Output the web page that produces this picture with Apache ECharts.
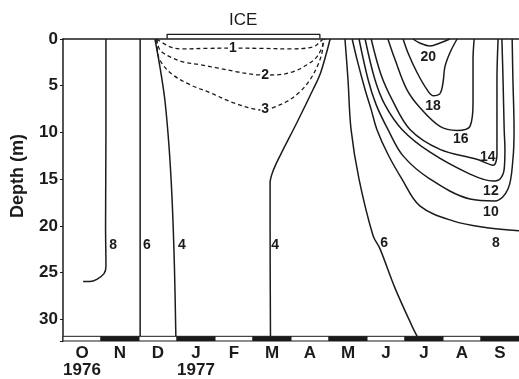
<!DOCTYPE html>
<html><head><meta charset="utf-8">
<script src="https://cdn.jsdelivr.net/npm/echarts@6/dist/echarts.min.js"></script>
<style>html,body{margin:0;padding:0;background:#fff}#c{width:519px;height:379px}</style>
</head><body><div id="c"></div>
<script>
// x = months since 1 Oct 1976, y = depth (m)
const months = ['O','N','D','J','F','M','A','M','J','J','A','S'];
const yearLabels = {0:'1976', 3:'1977'};
const depthTicks = [0,5,10,15,20,25,30];
const depthMax = 32.3;
const stripTop = 31.8;

// solid isotherms (°C)
const iso8Left  = [[1.13,0],[1.13,10],[1.12,20],[1.13,24.3],[1.08,25.1],[0.89,25.7],[0.71,25.93],[0.53,25.93]];
const iso6Left  = [[2.03,0],[2.03,15],[2.03,31.8]];
const iso4Left  = [[2.42,0],[2.56,3.2],[2.68,6.5],[2.79,11.5],[2.87,17.1],[2.93,24],[2.97,31.8]];
const iso4Right = [[7.03,0],[6.78,3.6],[6.58,5.4],[6.16,8.9],[5.71,12.5],[5.52,14.2],[5.45,15.4],[5.45,20],[5.46,31.8]];
const iso6Right = [[7.42,0],[7.50,4.36],[7.58,9.67],[7.79,14.98],[8.16,21.04],[8.34,22.42],[8.74,26.67],[9.21,30.92],[9.32,31.8]];
const iso8Right = [[7.61,0],[7.74,2.23],[7.95,5.42],[8.11,7.55],[8.26,9.67],[8.55,12.33],[8.92,14.98],[9.39,17.85],[10.26,19.45],[11.16,20.19],[12.0,20.51]];
const iso10 = [[7.79,0],[8.03,4.36],[8.24,7.02],[8.55,9.67],[8.95,12.5],[9.66,14.98],[10.71,17.11],[11.37,17.32],[11.71,16.05],[11.84,12.86],[11.87,9.67],[11.84,4.36],[11.82,0]];
const iso12 = [[7.95,0],[8.21,4.36],[8.47,7.02],[8.92,9.67],[9.66,12.11],[10.71,14.45],[11.32,15.2],[11.50,14.98],[11.61,13.92],[11.63,11.8],[11.61,9.67],[11.58,4.36],[11.55,0]];
const iso14 = [[8.11,0],[8.37,3.83],[8.66,6.48],[9.13,9.67],[9.92,11.8],[10.89,12.86],[11.32,13.5],[11.42,12.33],[11.42,9.67],[11.42,4.36],[11.45,0]];
const iso16 = [[8.55,0],[8.74,2.23],[9.05,5.42],[9.39,7.33],[9.92,9.35],[10.37,9.78],[10.71,9.35],[10.79,6.8],[10.79,2.23],[10.82,0]];
const iso18 = [[8.95,0],[9.08,1.49],[9.32,3.61],[9.58,5.42],[9.74,6.06],[9.92,5.84],[10.0,4.68],[10.05,2.98],[10.18,1.49],[10.37,0]];
const iso20 = [[9.21,0],[9.39,0.43],[9.66,0.74],[9.92,0.43],[10.18,0]];

// dashed isotherms under ice
const iso1 = [[2.47,0],[2.82,0.85],[3.16,1.06],[3.8,1.0],[4.47,0.98],[5.2,1.0],[5.97,1.06],[6.58,0.85],[6.76,0.32],[6.84,0]];
const iso2 = [[2.47,0],[2.55,1.17],[2.82,1.91],[3.16,2.44],[3.61,2.76],[4.05,3.08],[4.58,3.51],[5.11,3.83],[5.32,3.85],[5.63,3.83],[6.05,3.51],[6.42,2.76],[6.68,1.91],[6.82,0.85],[6.89,0]];
const iso3 = [[2.47,0.1],[2.50,1.70],[2.63,2.76],[2.89,3.83],[3.34,4.89],[3.87,5.74],[4.47,6.80],[5.11,7.55],[5.32,7.6],[5.53,7.33],[5.89,6.69],[6.24,5.63],[6.50,4.36],[6.71,2.76],[6.82,1.38],[6.84,0.32]];

// isotherm labels: [month, depth, text]
const solidLabels = [
  [1.32,22.1,'8'],[2.21,22.1,'6'],[3.13,22.1,'4'],[5.58,22.1,'4'],
  [8.45,21.8,'6'],[11.39,21.8,'8'],[11.26,18.5,'10'],[11.26,16.26,'12'],
  [11.18,12.65,'14'],[10.47,10.73,'16'],[9.74,7.23,'18'],[9.61,1.91,'20']
];
const dashedLabels = [[4.47,0.96,'1'],[5.32,3.83,'2'],[5.32,7.55,'3']];

const iceStart = 2.74, iceEnd = 6.76;
const iceText = [[4.74,-2.0,'ICE']];

const INK = '#1b1b1b';
const FONT = 'Liberation Sans, Arial, sans-serif';
const lineBase = (data, dashed) => ({
  type:'line', data, smooth:0.35, symbol:'none', xAxisIndex:0, yAxisIndex:0,
  lineStyle:{color:INK, width: dashed ? 1.3 : 1.5, type: dashed ? [4,3] : 'solid'},
  silent:true, animation:false, z:3
});

const series = [];
[iso8Left, iso6Left, iso4Left, iso4Right, iso6Right, iso8Right, iso10, iso12, iso14, iso16, iso18, iso20]
  .forEach(d => series.push(lineBase(d, false)));
[iso1, iso2, iso3].forEach(d => series.push(lineBase(d, true)));

// ICE bracket
series.push({
  type:'line', clip:false, symbol:'none', animation:false, silent:true,
  data:[[iceStart,-0.05],[iceStart,-0.5],[iceEnd,-0.5],[iceEnd,-0.05]],
  lineStyle:{color:INK, width:1.3}
});

// bottom month strip
series.push({
  type:'custom', clip:false, animation:false, silent:true, z:4,
  data: months.map((m,i)=>[i]),
  encode:{x:0},
  renderItem(params, api){
    const i = api.value(0);
    const p0 = api.coord([i, stripTop]);
    const p1 = api.coord([i+1, depthMax]);
    const black = i % 2 === 1;
    return {type:'rect', shape:{x:p0[0], y:p0[1], width:p1[0]-p0[0], height:p1[1]-p0[1]},
      style:{fill: black ? INK : '#fff', stroke: INK, lineWidth:1}};
  }
});

const labelSeries = (arr, extra) => ({
  type:'scatter', symbolSize:0, clip:false, animation:false, silent:true, z:6,
  itemStyle:{color:INK, opacity:1},
  data: arr.map(a => ({value:[a[0],a[1]], name:a[2]})),
  label: Object.assign({show:true, position:'inside', formatter:'{b}', color:INK,
    textBorderWidth:0, textBorderColor:'transparent', opacity:1,
    fontFamily:FONT, fontSize:14, fontWeight:'bold'}, extra || {})
});
series.push(labelSeries(solidLabels));
series.push(labelSeries(dashedLabels, {backgroundColor:'#fff', padding:[0,1]}));
series.push(labelSeries(iceText, {fontSize:17, fontWeight:'normal'}));

const chart = echarts.init(document.getElementById('c'), null, {renderer:'canvas'});
chart.setOption({
  animation:false,
  backgroundColor:'#fff',
  grid:{left:63, right:0, top:39, bottom:36, containLabel:false},
  xAxis:[
    {type:'value', min:0, max:12, position:'top',
     axisLine:{show:true, lineStyle:{color:INK, width:1.5}}, axisTick:{show:false},
     axisLabel:{show:false}, splitLine:{show:false}},
    {type:'category', position:'bottom', boundaryGap:true,
     data: months.map((m,i)=>String(i)),
     axisLine:{show:false}, axisTick:{show:false}, splitLine:{show:false},
     axisLabel:{interval:0, margin:4, color:INK, fontFamily:FONT,
       fontSize:17, fontWeight:'bold', lineHeight:17,
       formatter:(v,i)=> months[i] + (yearLabels[i] ? '\n' + yearLabels[i] : '')}}
  ],
  yAxis:{type:'value', inverse:true, min:0, max:depthMax, interval:5,
    name:'Depth (m)', nameLocation:'middle', nameGap:36, nameRotate:90,
    nameTextStyle:{color:INK, fontFamily:FONT, fontSize:18, fontWeight:'bold', padding:[0,0,0,28]},
    axisLine:{show:true, lineStyle:{color:INK, width:1.5}},
    axisTick:{show:true, inside:false, length:3, lineStyle:{color:INK, width:1}},
    axisLabel:{margin:5, color:INK, fontFamily:FONT, fontSize:17, fontWeight:'bold',
      formatter: v => depthTicks.indexOf(v) >= 0 ? String(v) : ''},
    splitLine:{show:false}},
  series
});
</script></body></html>
